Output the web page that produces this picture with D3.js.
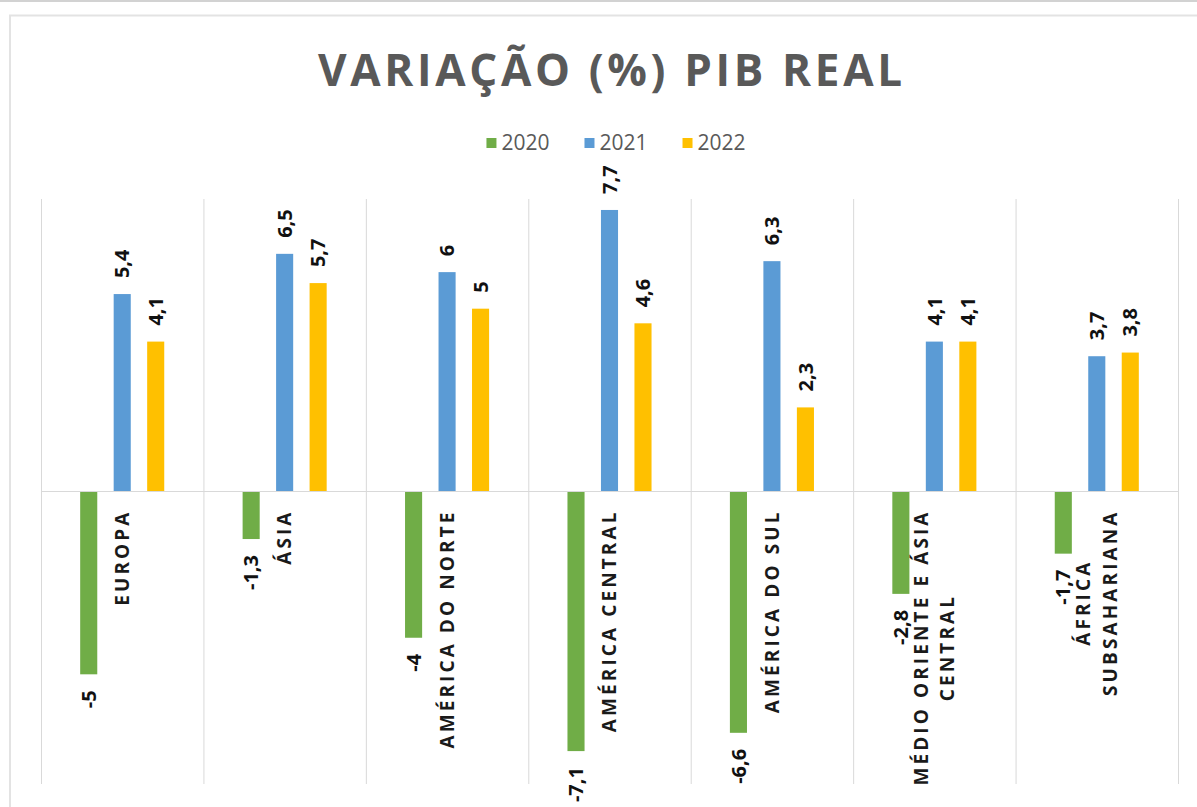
<!DOCTYPE html>
<html>
<head>
<meta charset="utf-8">
<script src="https://cdn.jsdelivr.net/npm/d3@7"></script>
<style>
  html, body { margin: 0; padding: 0; background: #fff; }
  svg { display: block; }
</style>
</head>
<body>
<svg id="chart" width="1197" height="807"></svg>
<script>
// ---- data ----
const categories = [
  ["EUROPA"],
  ["ÁSIA"],
  ["AMÉRICA DO NORTE"],
  ["AMÉRICA CENTRAL"],
  ["AMÉRICA DO SUL"],
  ["MÉDIO ORIENTE E ÁSIA", "CENTRAL"],
  ["ÁFRICA", "SUBSAHARIANA"]
];
const seriesNames = ["2020", "2021", "2022"];
const values2020 = [-5, -1.3, -4, -7.1, -6.6, -2.8, -1.7];
const values2021 = [5.4, 6.5, 6, 7.7, 6.3, 4.1, 3.7];
const values2022 = [4.1, 5.7, 5, 4.6, 2.3, 4.1, 3.8];
const seriesColors = ["#70AD47", "#5B9BD5", "#FFC000"];
const titleText = "VARIAÇÃO (%) PIB REAL";
const yDomain = [-8, 8];

const seriesValues = [values2020, values2021, values2022];
const catKeys = categories.map(c => c.join(" "));

const svg = d3.select("#chart");
const W = 1197, H = 807;

// frame
svg.append("rect").attr("x", 0).attr("y", 0).attr("width", W).attr("height", H).attr("fill", "#fff");
svg.append("line").attr("x1", 0).attr("x2", W).attr("y1", 1).attr("y2", 1)
  .attr("stroke", "#d2d2d2").attr("stroke-width", 2);
svg.append("path").attr("d", `M10,${H} V15.5 H${W}`)
  .attr("fill", "none").attr("stroke", "#e3e3e3").attr("stroke-width", 2);

// scales
const plot = { left: 41, right: 1178, top: 199, bottom: 784 };
const x0 = d3.scaleBand().domain(catKeys).range([plot.left, plot.right]).padding(0);
const x1 = d3.scaleBand().domain(seriesNames).range([0, x0.bandwidth()])
  .paddingInner(0.49).paddingOuter(1.17);
const y = d3.scaleLinear().domain(yDomain).range([plot.bottom, plot.top]);

// vertical gridlines (category separators)
const sepXs = catKeys.map(k => x0(k)).concat([plot.right]);
svg.append("g").selectAll("line").data(sepXs).join("line")
  .attr("x1", d => d + 0.5).attr("x2", d => d + 0.5)
  .attr("y1", plot.top).attr("y2", plot.bottom)
  .attr("stroke", "#d9d9d9").attr("stroke-width", 1);

// bars
const fmt = v => String(v).replace(".", ",");
const barData = [];
catKeys.forEach((k, i) => {
  seriesNames.forEach((s, j) => {
    barData.push({ cat: k, series: s, j, value: seriesValues[j][i] });
  });
});

svg.append("g").selectAll("rect").data(barData).join("rect")
  .attr("x", d => x0(d.cat) + x1(d.series))
  .attr("width", x1.bandwidth())
  .attr("y", d => y(Math.max(0, d.value)))
  .attr("height", d => Math.abs(y(d.value) - y(0)))
  .attr("fill", d => seriesColors[d.j]);

// zero line
svg.append("line")
  .attr("x1", plot.left).attr("x2", plot.right)
  .attr("y1", y(0)).attr("y2", y(0))
  .attr("stroke", "#d9d9d9").attr("stroke-width", 1.2);

// value labels (rotated)
svg.append("g").selectAll("text").data(barData).join("text")
  .attr("transform", d => {
    const cx = x0(d.cat) + x1(d.series) + x1.bandwidth() / 2;
    const cy = d.value >= 0 ? y(d.value) - 16 : y(d.value) + 16;
    return `translate(${cx},${cy}) rotate(-90)`;
  })
  .attr("text-anchor", d => d.value >= 0 ? "start" : "end")
  .attr("dy", "0.36em")
  .attr("font-family", "'Open Sans', sans-serif")
  .attr("font-weight", 700)
  .attr("font-size", 20)
  .attr("fill", "#111")
  .text(d => fmt(d.value));

// category labels (rotated, multi-line centered)
const catFont = 19, catLS = 3.1, lineGap = 26.5, labelTop = 511;
catKeys.forEach((k, i) => {
  const lines = categories[i];
  const cx = x0(k) + x0.bandwidth() / 2;
  const g = svg.append("g").attr("transform", `translate(${cx},${labelTop}) rotate(-90)`);
  const texts = g.selectAll("text").data(lines).join("text")
    .attr("font-family", "'Open Sans', sans-serif")
    .attr("font-weight", 700)
    .attr("font-size", catFont)
    .attr("letter-spacing", catLS)
    .attr("fill", "#1a1a1a")
    .attr("text-anchor", "middle")
    .attr("dy", "0.36em")
    .text(d => d);
  let maxLen = 0;
  texts.each(function () { maxLen = Math.max(maxLen, this.getComputedTextLength() - catLS); });
  texts.attr("x", -maxLen / 2)
    .attr("y", (d, li) => (li - (lines.length - 1) / 2) * lineGap);
});

// title
svg.append("text")
  .attr("x", 610).attr("y", 86)
  .attr("text-anchor", "middle")
  .attr("font-family", "'Open Sans', sans-serif")
  .attr("font-weight", 700)
  .attr("font-size", 44)
  .attr("fill", "#595959")
  .attr("textLength", 584)
  .attr("lengthAdjust", "spacing")
  .text(titleText);

// legend
const legend = svg.append("g");
let lx = 0;
const gapItems = 35;
seriesNames.forEach((s, j) => {
  const g = legend.append("g");
  g.append("rect").attr("x", 0).attr("y", -12).attr("width", 10).attr("height", 10)
    .attr("fill", seriesColors[j]);
  const t = g.append("text").attr("x", 15).attr("y", 0)
    .attr("font-family", "'Open Sans', sans-serif")
    .attr("font-size", 21).attr("fill", "#595959").text(s);
  const w = 15 + t.node().getComputedTextLength();
  g.attr("transform", `translate(${lx},0)`);
  lx += w + gapItems;
});
const legendW = lx - gapItems;
legend.attr("transform", `translate(${616 - legendW / 2},150)`);
</script>
</body>
</html>
